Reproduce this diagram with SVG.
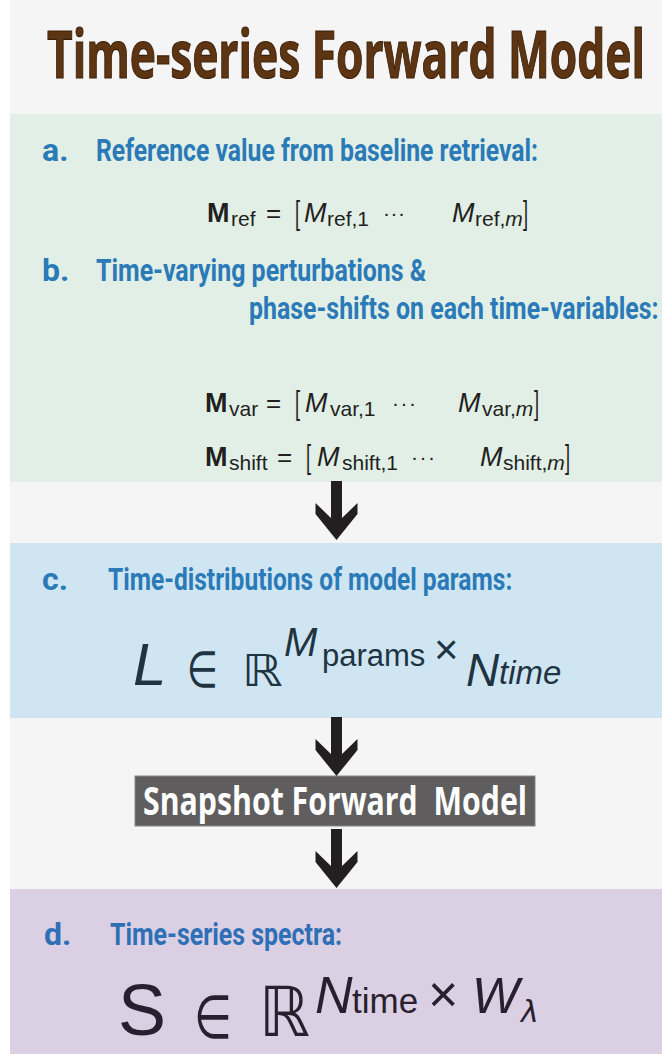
<svg xmlns="http://www.w3.org/2000/svg" width="662" height="1054" viewBox="0 0 662 1054">
<style>
.lbl{font-family:Roboto,"Liberation Sans",sans-serif;font-weight:700;font-size:32px;fill:#2a7ab8}
.m{font-family:"Liberation Sans",Arial,sans-serif;fill:#231f20}
.b{font-weight:700;font-size:27px}
.i{font-style:italic;font-size:27px}
.s{font-size:21px}
.op{font-size:26px}
.br{font-family:"Liberation Sans",Arial,sans-serif;font-size:26px;fill:#231f20}
.dj{font-family:"DejaVu Sans",sans-serif}
.arrow{fill:#231f20}
</style>
<defs>
<path id="arr" d="M-5.5,0 L5.5,0 L5.5,37 L21,22 L21,33 L0,59 L-21,33 L-21,22 L-5.5,37 Z"/>
</defs>
<rect x="0" y="0" width="662" height="1054" fill="#ffffff"/>
<rect x="10" y="0" width="652" height="1054" fill="#f5f5f5"/>

<g id="title">
<text transform="translate(47,78) scale(0.66,1)" x="0" y="0" textLength="906" lengthAdjust="spacingAndGlyphs" font-family="'Open Sans',sans-serif" font-weight="700" font-size="67" fill="#5e3513" stroke="#3a1f08" stroke-width="1.2">Time-series Forward Model</text>
</g>

<g id="panel-ab">
<rect x="10" y="114" width="652" height="368" fill="#e2efe6"/>
<text class="lbl" x="42" y="161">a.</text>
<text class="lbl" transform="translate(96,161) scale(0.65,1)" x="0" y="0" textLength="680" lengthAdjust="spacingAndGlyphs">Reference value from baseline retrieval:</text>
<text class="m" y="222"><tspan class="b" x="207">M</tspan><tspan class="s" x="231" y="226">ref</tspan><tspan class="op" x="266" y="222">=</tspan><tspan class="i" x="304">M</tspan><tspan class="s" x="327" y="226">ref,1</tspan><tspan class="s" x="383" y="220" textLength="22" lengthAdjust="spacing">···</tspan><tspan class="i" x="452" y="222">M</tspan><tspan class="s" x="475" y="226">ref,</tspan><tspan class="s" font-style="italic">m</tspan></text>
<text class="br" transform="translate(295,224) scale(0.7,1.3)">[</text>
<text class="br" transform="translate(523,224) scale(0.7,1.3)">]</text>

<text class="lbl" x="42" y="281">b.</text>
<text class="lbl" transform="translate(96,281) scale(0.65,1)" x="0" y="0" textLength="508" lengthAdjust="spacingAndGlyphs">Time-varying perturbations &amp;</text>
<text class="lbl" transform="translate(249,319) scale(0.64,1)" x="0" y="0" textLength="640" lengthAdjust="spacingAndGlyphs">phase-shifts on each time-variables:</text>

<text class="m" y="412"><tspan class="b" x="205">M</tspan><tspan class="s" x="229" y="416">var</tspan><tspan class="op" x="266" y="412">=</tspan><tspan class="i" x="305">M</tspan><tspan class="s" x="330" y="416">var,1</tspan><tspan class="s" x="392" y="410" textLength="24" lengthAdjust="spacing">···</tspan><tspan class="i" x="458" y="412">M</tspan><tspan class="s" x="482" y="416">var,</tspan><tspan class="s" font-style="italic">m</tspan></text>
<text class="br" transform="translate(295,414) scale(0.7,1.3)">[</text>
<text class="br" transform="translate(534,414) scale(0.7,1.3)">]</text>

<text class="m" y="466"><tspan class="b" x="205">M</tspan><tspan class="s" x="229" y="470">shift</tspan><tspan class="op" x="277" y="466">=</tspan><tspan class="i" x="317">M</tspan><tspan class="s" x="342" y="470">shift,1</tspan><tspan class="s" x="411" y="464" textLength="24" lengthAdjust="spacing">···</tspan><tspan class="i" x="480" y="466">M</tspan><tspan class="s" x="503" y="470">shift,</tspan><tspan class="s" font-style="italic">m</tspan></text>
<text class="br" transform="translate(306,468) scale(0.7,1.3)">[</text>
<text class="br" transform="translate(565,468) scale(0.7,1.3)">]</text>
</g>

<g id="panel-c">
<rect x="10" y="543" width="652" height="175" fill="#cfe6f2"/>
<text class="lbl" x="42" y="590">c.</text>
<text class="lbl" transform="translate(108,590) scale(0.65,1)" x="0" y="0" textLength="622" lengthAdjust="spacingAndGlyphs">Time-distributions of model params:</text>
<g fill="#1f3442" font-family="'Liberation Sans',Arial,sans-serif">
<text x="133" y="685" font-size="60" font-style="italic">L</text>
<text class="dj" x="187" y="687" font-size="50" textLength="31" lengthAdjust="spacingAndGlyphs">∈</text>
<text class="dj" x="242" y="686" font-size="44" textLength="41" lengthAdjust="spacingAndGlyphs">ℝ</text>
<text x="284" y="656" font-size="40" font-style="italic">M</text>
<text x="322" y="666" font-size="31">params</text>
<text x="434" y="664" font-size="42">×</text>
<text x="466" y="686" font-size="46" font-style="italic">N</text>
<text x="499" y="684" font-size="33" font-style="italic">time</text>
</g>
</g>

<g id="snapshot">
<rect x="135" y="776" width="400" height="50" fill="#5f5d5e" stroke="#8a8889" stroke-width="1"/>
<text x="143" y="815" xml:space="preserve" textLength="384" lengthAdjust="spacingAndGlyphs" font-family="'Open Sans',sans-serif" font-weight="700" font-size="39" fill="#ffffff">Snapshot Forward  Model</text>
</g>

<g id="panel-d">
<rect x="10" y="889" width="652" height="165" fill="#dacfe3"/>
<text class="lbl" x="44" y="945" style="fill:#2e6fb6">d.</text>
<text class="lbl" transform="translate(110,945) scale(0.65,1)" x="0" y="0" textLength="357" lengthAdjust="spacingAndGlyphs" style="fill:#2e6fb6">Time-series spectra:</text>
<g fill="#2a1f2e" font-family="'Liberation Sans',Arial,sans-serif">
<text x="118" y="1035" font-size="72">S</text>
<text class="dj" transform="translate(194,1038) scale(1,1.2)" x="0" y="0" font-size="50" textLength="38" lengthAdjust="spacingAndGlyphs">∈</text>
<text class="dj" transform="translate(259,1036) scale(1,1.15)" x="0" y="0" font-size="60" textLength="51" lengthAdjust="spacingAndGlyphs">ℝ</text>
<text x="315" y="1013" font-size="52" font-style="italic">N</text>
<text x="352" y="1013" font-size="35">time</text>
<text x="428" y="1012" font-size="52">×</text>
<text x="472" y="1013" font-size="50" font-style="italic">W</text>
<text class="dj" x="521" y="1022" font-size="30" font-style="italic">λ</text>
</g>
</g>

<g id="connectors" class="arrow">
<use href="#arr" transform="translate(336.5,481)"/>
<use href="#arr" transform="translate(336.5,717)"/>
<use href="#arr" transform="translate(336.5,829)"/>
</g>
</svg>
